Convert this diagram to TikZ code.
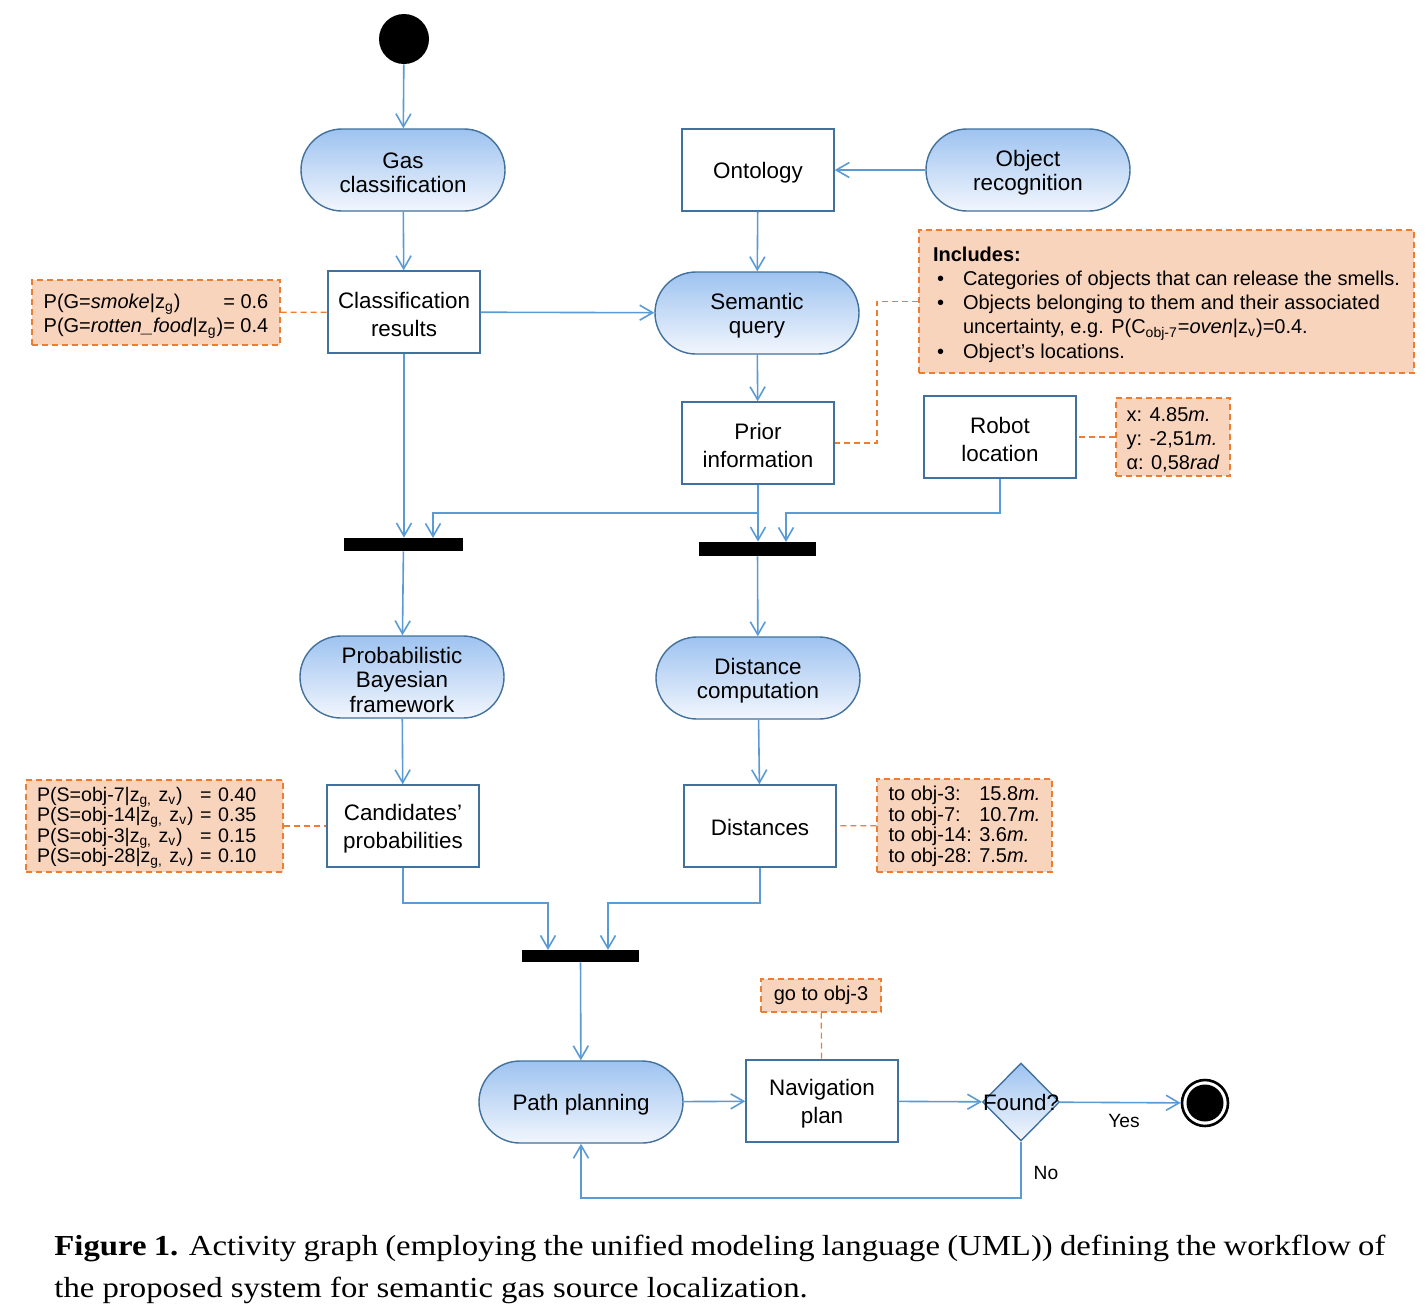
\documentclass[tikz,border=0pt]{standalone}
\usepackage{fontspec}
\setmainfont{Liberation Sans}
\newfontfamily\capfont{Liberation Serif}[FakeStretch=1.13]
\usetikzlibrary{shapes.geometric,arrows.meta}

\definecolor{flowblue}{RGB}{91,155,213}
\definecolor{edgeblue}{RGB}{65,113,156}
\definecolor{shadetop}{RGB}{158,195,240}
\definecolor{shadebot}{RGB}{242,246,253}
\definecolor{notefill}{RGB}{248,212,189}
\definecolor{noteline}{RGB}{237,125,49}

% subscript that does not enlarge the line
\newcommand\lowsub[1]{\smash{\textsubscript{#1}}}
% invisible strut that lowers the first text line a little
\newcommand\topstrut[1]{\rule{0pt}{#1}}

\begin{document}
\begin{tikzpicture}[x=0.5pt,y=-0.5pt,
  action/.style={draw=edgeblue, line width=0.7pt, rounded corners=20.5pt,
    minimum width=102pt, minimum height=41pt, top color=shadetop,
    bottom color=shadebot, align=center, inner sep=0pt,
    font=\fontsize{11.2}{12.3}\selectfont},
  objbox/.style={draw=edgeblue, line width=0.7pt, fill=white,
    minimum width=76pt, minimum height=41pt, align=center, inner sep=0pt,
    font=\fontsize{11.2}{14}\selectfont},
  syncbar/.style={fill=black, minimum width=59.5pt, minimum height=6.5pt, inner sep=0pt},
  note/.style={draw=noteline, dash pattern=on 3pt off 2pt, line width=0.6pt,
    fill=notefill, inner sep=0pt, align=left,
    font=\fontsize{10}{12.1}\selectfont},
  flow/.style={draw=flowblue, line width=0.8pt,
    -{Straight Barb[length=6.5pt,width=7.5pt]}},
  notelink/.style={draw=noteline, line width=0.6pt, dash pattern=on 3pt off 2pt},
  branch/.style={font=\fontsize{9.6}{11}\selectfont, inner sep=0pt},
]
\useasboundingbox (0,0) rectangle (1426,1308);
\fill[white] (0,0) rectangle (1426,1308);

% ---- activity nodes ----
\node[circle, fill=black, minimum size=25pt, inner sep=0pt] (start) at (404,39) {};
\node[action] (gas) at (403,170) {\topstrut{10.8pt}Gas\\classification};
\node[objbox] (onto) at (758,170) {\topstrut{11pt}Ontology};
\node[action] (objrec) at (1028,170) {\topstrut{10.8pt}Object\\recognition};
\node[objbox] (cres) at (404,312) {\topstrut{10.8pt}Classification\\results};
\node[action] (sq) at (757,313) {\topstrut{10.8pt}Semantic\\query};
\node[objbox] (prior) at (758,443) {\topstrut{10.8pt}Prior\\information};
\node[objbox] (robot) at (1000,437) {\topstrut{10.8pt}Robot\\location};
\node[syncbar] (bar1) at (403.5,544.5) {};
\node[syncbar, minimum width=58.5pt, minimum height=7pt] (bar2) at (757.5,549) {};
\node[action] (pbf) at (402,677) {\topstrut{10.8pt}Probabilistic\\Bayesian\\framework};
\node[action] (dc) at (758,678) {\topstrut{10.8pt}Distance\\computation};
\node[objbox] (cand) at (403,826) {\topstrut{10.8pt}Candidates’\\probabilities};
\node[objbox] (dist) at (760,826) {\topstrut{10pt}Distances};
\node[syncbar, minimum width=58.5pt, minimum height=6pt] (bar3) at (580.5,956) {};
\node[action] (pp) at (581,1102) {\topstrut{11pt}Path planning};
\node[objbox] (nav) at (822,1101) {\topstrut{11pt}Navigation\\plan};
\node[diamond, draw=edgeblue, line width=0.7pt, top color=shadetop, bottom color=shadebot,
  minimum width=38.5pt, minimum height=39pt, inner sep=0pt] (found) at (1021,1102) {};
\node[font=\fontsize{11.2}{12.3}\selectfont, inner sep=0pt] (foundtxt) at (found) {Found?};
\node[circle, draw=black, line width=1.3pt, fill=white, minimum size=23pt, inner sep=0pt] (stop) at (1205,1103) {};
\node[circle, fill=black, minimum size=18.5pt, inner sep=0pt] (stopdot) at (stop) {};

% ---- notes ----
\node[note, minimum width=124pt, minimum height=32.5pt] (ngas) at (156,312.5)
  {\begin{tabular}{@{}l@{}r@{}}
   \topstrut{11.5pt}P(G=\textit{smoke}|z\lowsub{g}) & = 0.6\\
   P(G=\textit{rotten\_food}|z\lowsub{g}) & = 0.4
   \end{tabular}};
\node[note, minimum width=247.5pt, minimum height=71.5pt] (inc) at (1166.5,301.5)
  {\topstrut{10.3pt}\textbf{Includes:}\\
   \makebox[15pt][l]{\hspace{2pt}•}Categories of objects that can release the smells.\\
   \makebox[15pt][l]{\hspace{2pt}•}Objects belonging to them and their associated\\
   \hspace*{15pt}uncertainty, e.g. P(C\lowsub{obj-7}=\textit{oven}|z\lowsub{v})=0.4.\\
   \makebox[15pt][l]{\hspace{2pt}•}Object’s locations.};
\node[note, minimum width=57pt, minimum height=39pt, font=\fontsize{10}{12}\selectfont] (pose) at (1173,437)
  {\topstrut{9.3pt}x: 4.85\textit{m.}\\ y: -2,51\textit{m.}\\ α: 0,58\textit{rad}};
\node[note, minimum width=128.5pt, minimum height=46pt, text width=117.5pt,
  font=\fontsize{9.8}{10.15}\selectfont] (ncand) at (154.5,826)
  {\begin{tabular}{@{}l@{ }l@{}}
   \topstrut{9.1pt}P(S=obj-7|z\lowsub{g,} z\lowsub{v}) & = 0.40\\
   P(S=obj-14|z\lowsub{g,} z\lowsub{v}) & = 0.35\\
   P(S=obj-3|z\lowsub{g,} z\lowsub{v}) & = 0.15\\
   P(S=obj-28|z\lowsub{g,} z\lowsub{v}) & = 0.10
   \end{tabular}};
\node[note, minimum width=87.5pt, minimum height=46.5pt, font=\fontsize{10}{10}\selectfont] (ndist) at (964.5,825.5)
  {\begin{tabular}{@{}l@{ }l@{}}
   \topstrut{9pt}to obj-3: & 15.8\textit{m.}\\
   to obj-7: & 10.7\textit{m.}\\
   to obj-14: & 3.6\textit{m.}\\
   to obj-28: & 7.5\textit{m.}
   \end{tabular}};
\node[note, minimum width=60pt, minimum height=16.5pt] (ngo) at (821,995.5) {go to obj-3};

% ---- join inputs and bends ----
\coordinate (b1in) at (433,538);
\coordinate (b2in) at (786,542);
\coordinate (b3inl) at (548,950);
\coordinate (b3inr) at (608,950);
\coordinate (incbend) at (877,443);

% ---- control flow ----
\draw[flow] (start) -- (gas);
\draw[flow] (gas) -- (cres);
\draw[flow] (objrec) -- (onto);
\draw[flow] (onto) -- (sq);
\draw[flow] (cres) -- (sq);
\draw[flow] (cres) -- (cres |- bar1.north);
\draw[flow] (sq) -- (prior);
\draw[flow] (prior.south) -- ++(0,28) -| (b1in);
\draw[flow] (prior) -- (prior |- bar2.north);
\draw[flow] (robot.south) -- ++(0,34) -| (b2in);
\draw[flow] (bar1) -- (pbf);
\draw[flow] (bar2) -- (dc);
\draw[flow] (pbf) -- (cand);
\draw[flow] (dc) -- (dist);
\draw[flow] (cand.south) -- ++(0,35) -| (b3inl);
\draw[flow] (dist.south) -- ++(0,35) -| (b3inr);
\draw[flow] (bar3) -- (pp);
\draw[flow] (pp) -- (nav);
\draw[flow] (nav) -- (found);
\draw[flow] (found) -- (stop);
\draw[flow] (found.south) -- ++(0,56) -| (pp.south);
\node[branch] (yes) at (1124,1121) {Yes};
\node[branch] (no) at (1046,1173) {No};

% ---- note anchors ----
\draw[notelink] (ngas) -- (cres);
\draw[notelink] (inc.west) -| (incbend) -- (prior.east);
\draw[notelink] (pose) -- (robot);
\draw[notelink] (ncand) -- (cand);
\draw[notelink] (ndist) -- (dist);
\draw[notelink] (ngo) -- (nav);

% ---- caption ----
\node[anchor=base west, inner sep=0pt, font=\capfont\fontsize{14.5}{17}\selectfont] (cap1) at (54,1255)
  {\makebox[665.5pt][s]{\textbf{Figure 1.} Activity graph (employing the unified modeling language (UML)) defining the workflow of}};
\node[anchor=base west, inner sep=0pt, font=\capfont\fontsize{14.5}{17}\selectfont] (cap2) at (54,1297)
  {the proposed system for semantic gas source localization.};
\end{tikzpicture}
\end{document}
